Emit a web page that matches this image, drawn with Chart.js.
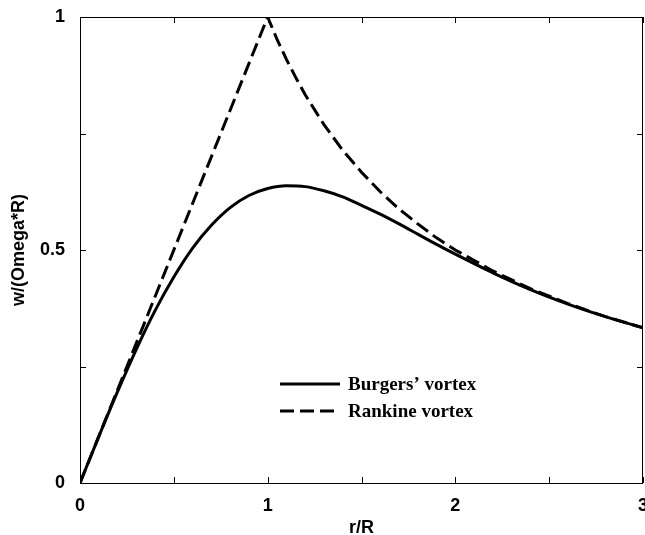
<!DOCTYPE html>
<html>
<head>
<meta charset="utf-8">
<script src="https://cdn.jsdelivr.net/npm/chart.js@4"></script>
<style>
html, body { margin: 0; padding: 0; background: #fff; }
#wrap { width: 645px; height: 535px; }
</style>
</head>
<body>
<div id="wrap"><canvas id="chart" width="645" height="535"></canvas></div>
<script>
// values
const burgersR = [0, 0.1, 0.2, 0.3, 0.4, 0.5, 0.6, 0.7, 0.8, 0.9, 1.0, 1.1, 1.2, 1.3, 1.4, 1.5, 1.6, 1.7, 1.8, 1.9, 2.0, 2.2, 2.4, 2.6, 2.8, 3.0];
const burgersW = [0, 0.0995, 0.196, 0.287, 0.370, 0.442, 0.504, 0.553, 0.591, 0.617, 0.632, 0.638, 0.636, 0.627, 0.614, 0.596, 0.577, 0.556, 0.534, 0.512, 0.491, 0.451, 0.415, 0.384, 0.357, 0.333];

const rankineR = [0, 1.0, 1.05, 1.1, 1.15, 1.2, 1.3, 1.4, 1.5, 1.6, 1.7, 1.8, 1.9, 2.0, 2.2, 2.4, 2.6, 2.8, 3.0];
const rankineW = [0, 1.0, 0.952, 0.909, 0.870, 0.833, 0.769, 0.714, 0.667, 0.625, 0.588, 0.556, 0.526, 0.500, 0.455, 0.417, 0.385, 0.357, 0.333];

const xTicks = [0, 1, 2, 3];
const yTicks = [0, 0.5, 1];
const xMinor = [0.5, 1.5, 2.5];
const yMinor = [0.25, 0.75];

const legendNames = ["Burgers’ vortex", "Rankine vortex"];

function pts(xs, ys) {
    return xs.map((x, i) => ({ x: x, y: ys[i] }));
}

const tickFont = { family: "Liberation Sans, Arial, sans-serif", size: 18, weight: "bold" };
const dash = [14, 6];

// frame, inward ticks on all four sides, legend
const decor = {
    id: "decor",
    afterDraw(c) {
        const ctx = c.ctx;
        const a = c.chartArea;
        const xs = c.scales.x, ys = c.scales.y;
        ctx.save();
        ctx.strokeStyle = "#000";
        ctx.lineWidth = 1;
        ctx.strokeRect(a.left + 0.5, a.top + 0.5, a.right - a.left - 1, a.bottom - a.top);

        ctx.beginPath();
        xTicks.concat(xMinor).forEach(v => {
            const px = Math.round(xs.getPixelForValue(v)) + 0.5;
            ctx.moveTo(px, a.bottom);
            ctx.lineTo(px, a.bottom - 6);
            ctx.moveTo(px, a.top);
            ctx.lineTo(px, a.top + 6);
        });
        yTicks.concat(yMinor).forEach(v => {
            const py = Math.round(ys.getPixelForValue(v)) + 0.5;
            ctx.moveTo(a.left, py);
            ctx.lineTo(a.left + 6, py);
            ctx.moveTo(a.right, py);
            ctx.lineTo(a.right - 6, py);
        });
        ctx.stroke();

        // legend
        ctx.lineWidth = 3;
        ctx.font = "bold 19px 'Liberation Serif', 'Times New Roman', serif";
        ctx.fillStyle = "#000";
        ctx.textBaseline = "middle";
        const rows = [384, 411];
        const dashes = [[], dash];
        rows.forEach((y, i) => {
            ctx.setLineDash(dashes[i]);
            ctx.beginPath();
            ctx.moveTo(280, y);
            ctx.lineTo(340, y);
            ctx.stroke();
            ctx.fillText(legendNames[i], 348, y + 1);
        });
        ctx.restore();
    }
};

new Chart(document.getElementById("chart"), {
    type: "line",
    data: {
        datasets: [
            {
                label: legendNames[0],
                data: pts(burgersR, burgersW),
                borderColor: "#000",
                borderWidth: 3,
                pointRadius: 0,
                cubicInterpolationMode: "monotone"
            },
            {
                label: legendNames[1],
                data: pts(rankineR, rankineW),
                borderColor: "#000",
                borderWidth: 3,
                borderDash: dash,
                pointRadius: 0,
                tension: 0
            }
        ]
    },
    options: {
        responsive: false,
        animation: false,
        layout: { padding: { top: 17, right: 2, left: 0, bottom: 0 } },
        plugins: {
            legend: { display: false },
            tooltip: { enabled: false }
        },
        scales: {
            x: {
                type: "linear",
                min: 0,
                max: 3,
                afterBuildTicks: s => { s.ticks = xTicks.map(v => ({ value: v })); },
                afterFit: s => { s.height = 52; s.paddingRight = 0; s.paddingLeft = 0; },
                grid: { display: false },
                border: { display: false },
                ticks: { color: "#000", font: tickFont, padding: 4 },
                title: {
                    display: true,
                    text: "r/R",
                    color: "#000",
                    font: tickFont,
                    padding: { top: 2, bottom: -4 }
                }
            },
            y: {
                min: 0,
                max: 1,
                afterBuildTicks: s => { s.ticks = yTicks.map(v => ({ value: v })); },
                afterFit: s => { s.width = 80; s.paddingTop = 0; s.paddingBottom = 0; },
                grid: { display: false },
                border: { display: false },
                ticks: { color: "#000", font: tickFont, padding: 7, callback: v => String(v) },
                title: {
                    display: true,
                    text: "w/(Omega*R)",
                    color: "#000",
                    font: tickFont,
                    padding: { top: 8, bottom: 0 }
                }
            }
        }
    },
    plugins: [decor]
});
</script>
</body>
</html>
